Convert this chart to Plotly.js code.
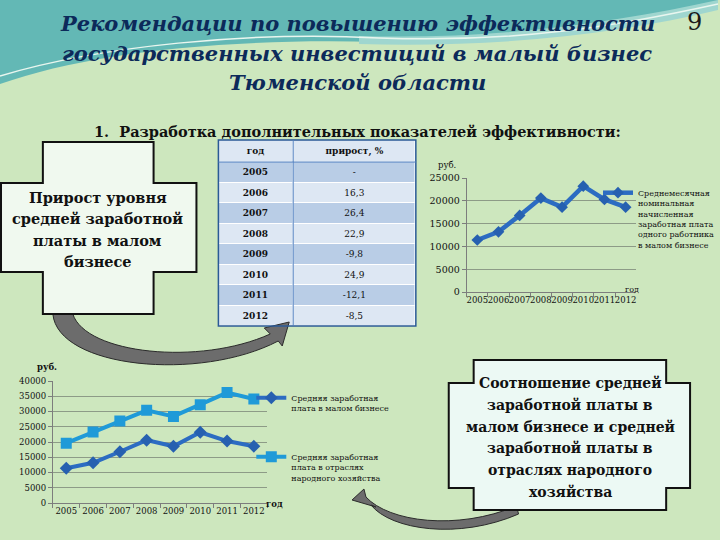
<!DOCTYPE html>
<html>
<head>
<meta charset="utf-8">
<script src="https://cdn.plot.ly/plotly-3.0.1.min.js"></script>
<style>
  html, body { margin: 0; padding: 0; background: #cde7be; }
  #slide { width: 720px; height: 540px; }
</style>
</head>
<body>
<div id="slide"></div>
<script>
  const years = ["2005", "2006", "2007", "2008", "2009", "2010", "2011", "2012"];
  const growthPct = ["-", "16,3", "26,4", "22,9", "-9,8", "24,9", "-12,1", "-8,5"];
  const tableHeader = ["год", "прирост, %"];
  const wageSmall = [11400, 13200, 16800, 20600, 18600, 23200, 20300, 18600];
  const wageEconomy = [19600, 23300, 26900, 30400, 28400, 32200, 36200, 34100];

  const titleLines = [
    "Рекомендации по повышению эффективности",
    "государственных инвестиций в малый бизнес",
    "Тюменской области",
  ];
  const crossLines = ["Прирост уровня", "средней заработной", "платы в малом", "бизнесе"];
  const plaqueLines = [
    "Соотношение средней", "заработной платы в", "малом бизнесе и средней",
    "заработной платы в", "отраслях народного", "хозяйства",
  ];

  const W = 720;
  const H = 540;
  const serif = "DejaVu Serif";

  // pixel -> paper
  function px(x) { return x / W; }
  function py(y) { return 1 - y / H; }
  function path(pts) {
    return pts.map((p) => {
      if (typeof p === "string") return p;
      return px(p[0]).toFixed(4) + "," + py(p[1]).toFixed(4);
    }).join(" ");
  }

  const dark = "#2c6cc2";
  const light = "#1f9ad8";
  const grid = "#8d9b87";

  // table drawn as a heatmap: header row + one row per year
  const colEdges = [0, 75, 198];
  const rowEdges = [0, 22];
  years.forEach(() => rowEdges.push(rowEdges[rowEdges.length - 1] + 20.5));
  const tableText = [tableHeader.map((t) => "<b>" + t + "</b>")]
    .concat(years.map((y, i) => ["<b>" + y + "</b>", growthPct[i]]));
  const tableShade = [[0, 0]].concat(years.map((_, i) => (i % 2 === 0 ? [1, 1] : [0, 0])));

  const traces = [
    {
      type: "heatmap",
      x: colEdges,
      y: rowEdges,
      z: tableShade,
      text: tableText,
      texttemplate: "%{text}",
      textfont: { family: serif, size: 9, color: "#111" },
      colorscale: [[0, "#dde7f3"], [1, "#b9cde6"]],
      zmin: 0,
      zmax: 1,
      showscale: false,
      xgap: 1,
      ygap: 1,
      hoverinfo: "skip",
      xaxis: "x3",
      yaxis: "y3",
      showlegend: false,
    },
    {
      type: "scatter",
      mode: "lines+markers",
      x: years,
      y: wageSmall,
      xaxis: "x",
      yaxis: "y",
      name: "Среднемесячная<br>номинальная<br>начисленная<br>заработная плата<br>одного работника<br>в малом бизнесе",
      legend: "legend",
      line: { color: dark, width: 4.5 },
      marker: { symbol: "diamond", size: 9, color: "#2660b0" },
    },
    {
      type: "scatter",
      mode: "lines+markers",
      x: years,
      y: wageSmall,
      xaxis: "x2",
      yaxis: "y2",
      name: "Средняя заработная<br>плата в малом бизнесе",
      legend: "legend2",
      line: { color: dark, width: 4 },
      marker: { symbol: "diamond", size: 10, color: "#2660b0" },
    },
    {
      type: "scatter",
      mode: "lines+markers",
      x: years,
      y: wageEconomy,
      xaxis: "x2",
      yaxis: "y2",
      name: "Средняя заработная<br>плата в отраслях<br>народного хозяйства",
      legend: "legend3",
      line: { color: light, width: 4 },
      marker: { symbol: "square", size: 11, color: light },
    },
  ];

  function xAxis(domain, size) {
    return {
      domain: domain,
      type: "category",
      range: [-0.5, 7.5],
      showgrid: false,
      zeroline: false,
      showline: true,
      linecolor: "#7d7d7d",
      linewidth: 1,
      ticks: "outside",
      tickson: "boundaries",
      ticklen: 4,
      tickcolor: "#7d7d7d",
      tickangle: 0,
      tickfont: { family: serif, size: size, color: "#111" },
    };
  }

  function yAxis(domain, max, anchor, size) {
    return {
      domain: domain,
      anchor: anchor,
      range: [0, max],
      dtick: 5000,
      tickformat: "d",
      showgrid: true,
      gridcolor: grid,
      gridwidth: 1,
      zeroline: false,
      showline: true,
      linecolor: "#7d7d7d",
      ticks: "outside",
      ticklen: 4,
      tickcolor: "#7d7d7d",
      tickfont: { family: serif, size: size, color: "#111" },
    };
  }

  const shapes = [
    // teal header backdrop
    {
      type: "path", xref: "paper", yref: "paper", layer: "below",
      path: "M " + path([[0, 0], "L", [720, 0], "L", [720, 8], "C", [620, 32], [520, 46], [380, 42], "C", [230, 38], [90, 52], [0, 84]]) + " Z",
      fillcolor: "#63b8b5", line: { width: 0 },
    },
    {
      type: "path", xref: "paper", yref: "paper", layer: "below",
      path: "M " + path([[360, 36], "C", [500, 40], [620, 22], [720, 0], "L", [720, 10], "C", [620, 34], [500, 48], [360, 44]]) + " Z",
      fillcolor: "#9fd6cf", line: { width: 0 },
    },
    {
      type: "path", xref: "paper", yref: "paper", layer: "below",
      path: "M " + path([[0, 76], "C", [100, 46], [250, 31], [380, 38], "C", [520, 43], [620, 26], [720, 4]]),
      line: { color: "#e9f6ef", width: 1.5 },
    },
    // white backing for the table grid lines
    {
      type: "rect", xref: "paper", yref: "paper", layer: "below",
      x0: px(219), x1: px(417), y0: py(326), y1: py(140),
      fillcolor: "#ffffff", line: { width: 0 },
    },
    // arrow from the cross to the table
    {
      type: "path", xref: "paper", yref: "paper", layer: "above",
      path: "M " + path([[53, 314], "C", [58, 368], [200, 382], [279, 341], "L", [283, 346], "L", [290, 322], "L", [265, 328], "L", [271, 334], "C", [200, 366], [86, 354], [73, 314]]) + " Z",
      fillcolor: "#6c6c6c", line: { color: "#2b2b2b", width: 1 },
    },
    // arrow from the right box to the lower chart
    {
      type: "path", xref: "paper", yref: "paper", layer: "above",
      path: "M " + path([[520, 514], "C", [460, 540], [392, 530], [372, 505], "L", [377, 507], "L", [353, 500], "L", [365, 489], "L", [367, 497], "C", [390, 522], [458, 531], [518, 506]]) + " Z",
      fillcolor: "#6c6c6c", line: { color: "#2b2b2b", width: 1 },
    },
    // cross on the left
    {
      type: "path", xref: "paper", yref: "paper", layer: "above",
      path: "M " + path([[43, 142], "L", [154, 142], "L", [154, 183], "L", [197, 183], "L", [197, 272], "L", [154, 272], "L", [154, 314], "L", [43, 314], "L", [43, 272], "L", [1, 272], "L", [1, 183], "L", [43, 183]]) + " Z",
      fillcolor: "#f0f9ef", line: { color: "#111", width: 2 },
    },
    // plaque on the right
    {
      type: "path", xref: "paper", yref: "paper", layer: "above",
      path: "M " + path([[475, 360], "L", [668, 360], "L", [668, 383], "L", [692, 383], "L", [692, 488], "L", [668, 488], "L", [668, 510], "L", [475, 510], "L", [475, 488], "L", [450, 488], "L", [450, 383], "L", [475, 383]]) + " Z",
      fillcolor: "#ecf9f4", line: { color: "#111", width: 2 },
    },
    // table borders
    {
      type: "rect", xref: "paper", yref: "paper", layer: "above",
      x0: px(219), x1: px(417), y0: py(326), y1: py(140),
      line: { color: "#2a5a96", width: 1.5 },
    },
    {
      type: "line", xref: "paper", yref: "paper", layer: "above",
      x0: px(294), x1: px(294), y0: py(326), y1: py(140),
      line: { color: "#4f7fbf", width: 1 },
    },
    {
      type: "line", xref: "paper", yref: "paper", layer: "above",
      x0: px(219), x1: px(417), y0: py(162), y1: py(162),
      line: { color: "#4f7fbf", width: 1 },
    },
  ];

  function note(text, x, y, opts) {
    return Object.assign({
      text: text, xref: "paper", yref: "paper", x: px(x), y: py(y),
      showarrow: false, xanchor: "center", yanchor: "middle",
      font: { family: serif, size: 10, color: "#111" },
    }, opts || {});
  }

  function stack(lines, x, y0, dy, font, wrap) {
    return lines.map((t, i) => note(wrap[0] + t + wrap[1], x, y0 + i * dy, { font: font }));
  }

  const annotations = []
    .concat(stack(titleLines, 358, 24, 29.5, { family: serif, size: 21, color: "#0c2a5a" }, ["<b><i>", "</i></b>"]))
    .concat(stack(crossLines, 98, 197, 21.5, { family: serif, size: 14.5, color: "#111" }, ["<b>", "</b>"]))
    .concat(stack(plaqueLines, 572, 383, 21.8, { family: serif, size: 14, color: "#111" }, ["<b>", "</b>"]))
    .concat([
      note("9", 696, 22, { font: { family: serif, size: 24, color: "#1a1a1a" } }),
      note("<b>1.  Разработка дополнительных показателей эффективности:</b>", 358, 131,
        { font: { family: serif, size: 14.5, color: "#111" } }),
      note("руб.", 448, 165, { font: { family: serif, size: 8.5, color: "#111" } }),
      note("год", 634, 289, { font: { family: serif, size: 8, color: "#111" } }),
      note("<b>руб.</b>", 47, 367, { font: { family: serif, size: 8.5, color: "#111" } }),
      note("<b>год</b>", 275, 504, { font: { family: serif, size: 8.5, color: "#111" } }),
    ]);

  function legendAt(x, y, size) {
    return {
      x: px(x), y: py(y), xanchor: "left", yanchor: "top",
      valign: "top", bgcolor: "rgba(0,0,0,0)", borderwidth: 0,
      itemwidth: 30, tracegroupgap: 0,
      font: { family: serif, size: size, color: "#111" },
    };
  }

  const layout = {
    width: W,
    height: H,
    margin: { t: 0, r: 0, b: 0, l: 0 },
    paper_bgcolor: "#cde7be",
    plot_bgcolor: "rgba(0,0,0,0)",
    showlegend: true,
    legend: legendAt(600, 181, 8),
    legend2: legendAt(252, 386, 8),
    legend3: legendAt(252, 445, 8),
    xaxis: xAxis([px(468), px(638)], 8.5),
    yaxis: yAxis([py(292), py(178)], 25000, "x", 9.5),
    xaxis2: Object.assign(xAxis([px(53), px(268)], 8.5), { anchor: "y2" }),
    yaxis2: yAxis([py(503), py(381)], 40000, "x2", 8.5),
    xaxis3: { domain: [px(219), px(417)], range: [0, 198], anchor: "y3", visible: false, fixedrange: true },
    yaxis3: { domain: [py(326), py(140)], range: [186, 0], anchor: "x3", visible: false, fixedrange: true },
    shapes: shapes,
    annotations: annotations,
  };

  Plotly.newPlot("slide", traces, layout, { displayModeBar: false, staticPlot: true });
</script>
</body>
</html>
